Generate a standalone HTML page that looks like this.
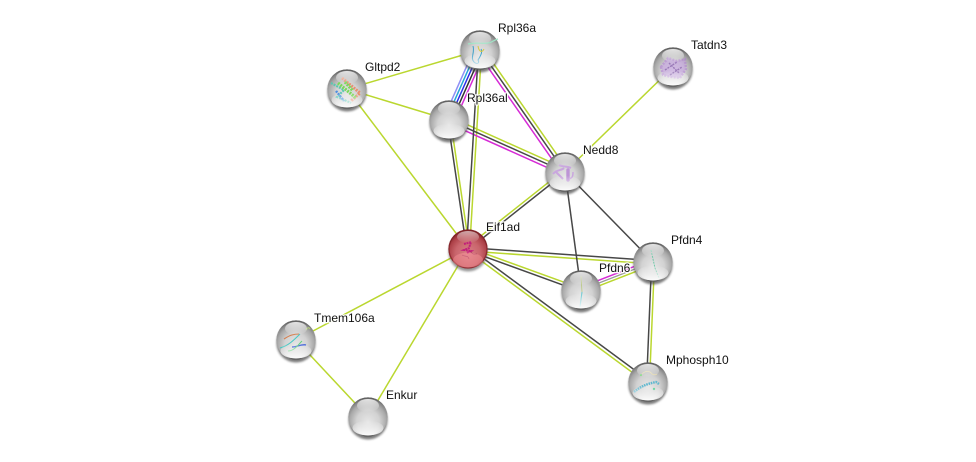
<!DOCTYPE html>
<html><head><meta charset="utf-8"><title>Network</title>
<style>
html,body{margin:0;padding:0;background:#fff;width:976px;height:462px;overflow:hidden}
svg{display:block}
text{font-family:"Liberation Sans",sans-serif;font-size:12px;fill:#111;stroke:#fff;stroke-width:2.5px;stroke-opacity:.92;paint-order:stroke;stroke-linejoin:round}
.e line{stroke-width:1.5;fill:none}
.l line{stroke:#bad72f}
.d line{stroke:#474747}
.m line{stroke:#d62bd6}
</style></head><body>
<svg width="976" height="462" viewBox="0 0 976 462" xmlns="http://www.w3.org/2000/svg">
<defs>
<radialGradient id="g" cx="50%" cy="62%" r="58%">
<stop offset="0" stop-color="#e6e6e6"/><stop offset=".5" stop-color="#d2d2d2"/><stop offset=".82" stop-color="#a8a8a8"/><stop offset="1" stop-color="#7c7c7c"/>
</radialGradient>
<radialGradient id="r" cx="50%" cy="62%" r="58%">
<stop offset="0" stop-color="#d97f86"/><stop offset=".55" stop-color="#c9656c"/><stop offset=".85" stop-color="#ad4148"/><stop offset="1" stop-color="#84252a"/>
</radialGradient>
<linearGradient id="hl" x1="0" y1="0" x2="0" y2="1">
<stop offset="0" stop-color="#fff" stop-opacity=".8"/><stop offset="1" stop-color="#fff" stop-opacity="0"/>
</linearGradient>
<linearGradient id="bt" x1="0" y1="0" x2="0" y2="1">
<stop offset="0" stop-color="#fff" stop-opacity="0"/><stop offset="1" stop-color="#fff" stop-opacity=".95"/>
</linearGradient>
<linearGradient id="rim" x1="0" y1="0" x2="0" y2="1">
<stop offset="0" stop-color="#5c5c5c"/><stop offset=".3" stop-color="#999" stop-opacity=".6"/><stop offset=".8" stop-color="#aaa" stop-opacity=".3"/><stop offset="1" stop-color="#555"/>
</linearGradient>
<filter id="b" x="-30%" y="-30%" width="160%" height="160%"><feGaussianBlur stdDeviation="1.1"/></filter>
<g id="base"><circle cx="0" cy="3" r="19.5" fill="#444" opacity=".7" filter="url(#b)"/><circle r="19.6" fill="url(#g)"/><circle r="19" fill="none" stroke="url(#rim)" stroke-width="1.3"/></g>
<g id="gloss"><ellipse cx="0" cy="-11.5" rx="11" ry="6.5" fill="url(#hl)"/><ellipse cx="0" cy="11" rx="15.5" ry="7.5" fill="url(#bt)"/></g>
</defs>

<g class="e l">
<line x1="347" y1="89" x2="480" y2="50"/>
<line x1="347" y1="89" x2="449" y2="120"/>
<line x1="347" y1="89" x2="468" y2="249"/>
<line x1="673" y1="67" x2="565" y2="172"/>
<line x1="468" y1="249" x2="296" y2="340"/>
<line x1="468" y1="249" x2="368" y2="417"/>
<line x1="296" y1="340" x2="368" y2="417"/>
<line x1="481.6" y1="50" x2="469.6" y2="249"/>
<line x1="450.5" y1="120" x2="469.5" y2="249"/>
<line x1="482.7" y1="48.1" x2="567.7" y2="170.1"/>
<line x1="450.3" y1="117.1" x2="566.3" y2="169.1"/>
<line x1="563.6" y1="170.3" x2="466.6" y2="247.3"/>
<line x1="468" y1="251" x2="653" y2="264"/>
<line x1="468.5" y1="247.6" x2="581.5" y2="288.6"/>
<line x1="582" y1="292.4" x2="654" y2="264.4"/>
<line x1="467" y1="250.3" x2="647" y2="383.3"/>
<line x1="654.5" y1="262" x2="649.5" y2="382"/>
</g>
<g class="e m">
<line x1="477.3" y1="51.9" x2="562.3" y2="173.9"/>
<line x1="447.7" y1="122.9" x2="563.7" y2="174.9"/>
<line x1="580" y1="287.6" x2="652" y2="259.6"/>
</g>
<g class="e">
<line x1="443.9" y1="117.7" x2="474.9" y2="47.7" stroke="#8f8ff5"/>
<line x1="446.4" y1="118.9" x2="477.4" y2="48.9" stroke="#25a5d8"/>
<line x1="449" y1="120" x2="480" y2="50" stroke="#2a2ae8"/>
<line x1="454.1" y1="122.3" x2="485.1" y2="52.3" stroke="#d62bd6"/>
</g>
<g class="e d">
<line x1="478.5" y1="50" x2="466.5" y2="249"/>
<line x1="447.7" y1="120" x2="466.7" y2="249"/>
<line x1="480" y1="50" x2="565" y2="172"/>
<line x1="449" y1="120" x2="565" y2="172"/>
<line x1="565.4" y1="172.5" x2="468.4" y2="249.5"/>
<line x1="565" y1="172" x2="581" y2="290"/>
<line x1="565" y1="172" x2="653" y2="262"/>
<line x1="468" y1="247.6" x2="653" y2="260.6"/>
<line x1="467.5" y1="250.4" x2="580.5" y2="291.4"/>
<line x1="469" y1="247.7" x2="649" y2="380.7"/>
<line x1="651.6" y1="262" x2="646.6" y2="382"/>
</g>
<line x1="451.6" y1="121.1" x2="482.6" y2="51.1" stroke="#333" stroke-width="1.5"/>
<line x1="581" y1="290" x2="653" y2="262" stroke="#999" stroke-width="1.3"/>

<!-- Rpl36a -->
<g transform="translate(480,50)"><use href="#base"/>
<path d="M-7 -4C-5 3-10 8-6 12c3 3 6 1 4-2C0 7 3 2 1 -1" fill="none" stroke="#3a9fc8" stroke-width="1"/>
<path d="M-2 -4c1 6 4 7 6 3" fill="none" stroke="#d8c940" stroke-width="1"/>
<path d="M-12 -6c8 -2 14 0 20 -1c3 0 6 -3 10 -4" fill="none" stroke="#9fe3c5" stroke-width="1.2"/>
<use href="#gloss"/></g>
<!-- Gltpd2 -->
<g transform="translate(347,89)"><use href="#base"/>
<path d="M-16 -6L-3 1L-10 8L4 14" fill="none" stroke="#5cc8b0" stroke-width="2.2" stroke-dasharray="2 1"/>
<path d="M-5 -11L13 4L4 12" fill="none" stroke="#e89070" stroke-width="3" stroke-dasharray="2 1"/>
<path d="M-9 -6L9 9M-2 -7L6 2" fill="none" stroke="#7ad85a" stroke-width="3.2" stroke-dasharray="2 1"/>
<path d="M-11 2L-3 12" fill="none" stroke="#4d8ee0" stroke-width="2.4" stroke-dasharray="2 1"/>
<use href="#gloss"/></g>
<!-- Rpl36al -->
<g transform="translate(449,120)"><use href="#base"/><use href="#gloss"/></g>
<!-- Tatdn3 -->
<g transform="translate(673,67)"><use href="#base"/>
<path d="M-12 0L-5 -9L4 -6L12 -8L13 2L7 11L-2 10L-10 8Z" fill="#c29ae2" opacity=".55" stroke="#b078d8" stroke-width="2.4" stroke-dasharray="2 1.2"/>
<path d="M-8 3L4 -5M-3 8L9 0M-4 -4L6 6" stroke="#9a7ab8" stroke-width="1.4" stroke-dasharray="2 1" fill="none"/>
<use href="#gloss"/></g>
<!-- Nedd8 -->
<g transform="translate(565,172)"><use href="#base"/>
<path d="M-12 2c4 -5 8 -3 11 -6M-10 -1L-2 7M-6 -7c4 2 8 1 12 3" fill="none" stroke="#c9a6de" stroke-width="2"/>
<path d="M3 -2L3 8" stroke="#bd94d6" stroke-width="3.4" stroke-linecap="round"/>
<path d="M8 0c0 5 -1 6 -4 7" fill="none" stroke="#c9a6de" stroke-width="1.5"/>
<use href="#gloss"/></g>
<!-- Eif1ad -->
<g transform="translate(468,249)"><circle cx="0" cy="3" r="19.5" fill="#555" opacity=".6" filter="url(#b)"/><circle r="19.6" fill="url(#r)"/><circle r="19" fill="none" stroke="#7c2025" stroke-opacity=".7" stroke-width="1.3"/>
<path d="M-4 -5L3 -7L1 -1L-4 1L3 2L-1 4" fill="none" stroke="#c21f7a" stroke-width="2" stroke-dasharray="2 .6"/>
<path d="M-6 6c3 2 6 0 7 4M3 3c2 3 4 2 6 2" fill="none" stroke="#a43a5c" stroke-width=".7"/>
<ellipse cx="0" cy="-12" rx="11" ry="6" fill="url(#hl)" opacity=".75"/><ellipse cx="0" cy="11" rx="15" ry="7.5" fill="#ff9aa0" opacity=".4"/></g>
<!-- Pfdn4 -->
<g transform="translate(653,262)"><use href="#base"/>
<path d="M-2 -12L0 -3L2 6L6 16" fill="none" stroke="#6fc8a8" stroke-width="1" stroke-dasharray="2 1"/>
<use href="#gloss"/></g>
<!-- Pfdn6 -->
<g transform="translate(581,290)"><use href="#base"/>
<path d="M0 -14L1 2" fill="none" stroke="#b9c880" stroke-width=".8"/><path d="M1 2L-1 17" fill="none" stroke="#6fcad2" stroke-width="1.1"/>
<use href="#gloss"/></g>
<!-- Tmem106a -->
<g transform="translate(296,340)"><use href="#base"/>
<path d="M-16 8c8 -2 14 -8 20 -14" fill="none" stroke="#45c9c4" stroke-width="1"/>
<path d="M-12 -1c6 -4 10 -5 15 -5" fill="none" stroke="#d58050" stroke-width="1.1"/>
<path d="M-4 7c5 0 9 -3 14 -2" fill="none" stroke="#3f62d8" stroke-width="1.4"/>
<path d="M-8 11c6 0 10 -6 14 -10" fill="none" stroke="#5fd07a" stroke-width="1"/>
<path d="M10 -10c2 -3 3 -3 4 -1" fill="none" stroke="#b5cf7a" stroke-width="1"/>
<use href="#gloss"/></g>
<!-- Enkur -->
<g transform="translate(368,417)"><use href="#base"/><use href="#gloss"/></g>
<!-- Mphosph10 -->
<g transform="translate(648,382)"><use href="#base"/>
<path d="M-14 10C-8 5 -2 2 8 0L11 2" fill="none" stroke="#5fb8cf" stroke-width="2.4" stroke-dasharray="1.6 .8"/>
<path d="M-6 -8c4 -4 8 -3 10 0c2 1 4 1 5 0" fill="none" stroke="#e6d9a8" stroke-width=".8"/>
<circle cx="-7" cy="-7" r="1" fill="#7fdc7f"/><circle cx="6" cy="7" r="1.2" fill="#4fce8f"/>
<use href="#gloss"/></g>

<text x="498" y="32">Rpl36a</text>
<text x="365" y="71">Gltpd2</text>
<text x="467" y="102">Rpl36al</text>
<text x="691" y="49">Tatdn3</text>
<text x="583" y="154">Nedd8</text>
<text x="486" y="231">Eif1ad</text>
<text x="671" y="244">Pfdn4</text>
<text x="599" y="272">Pfdn6</text>
<text x="314" y="322">Tmem106a</text>
<text x="386" y="399">Enkur</text>
<text x="666" y="364">Mphosph10</text>
</svg>
</body></html>
